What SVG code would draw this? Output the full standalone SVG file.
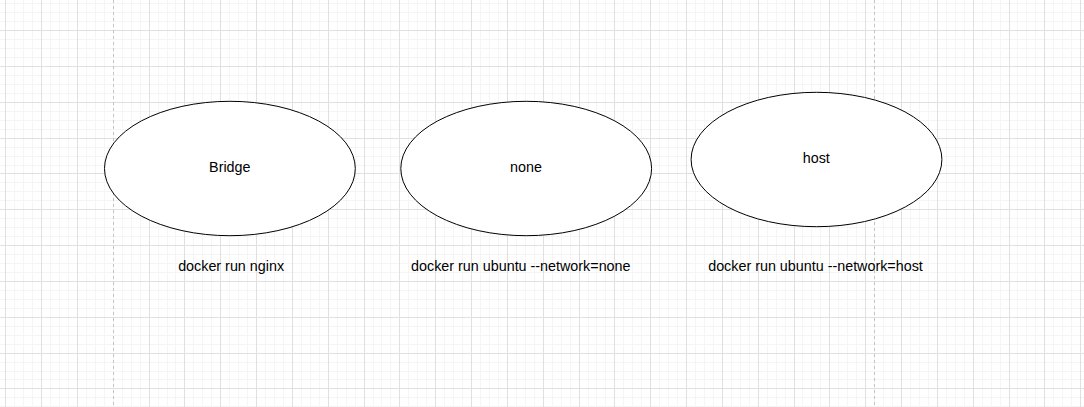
<svg xmlns="http://www.w3.org/2000/svg" width="1084" height="407" viewBox="0 0 1084 407">
<style>
.minor{stroke:#f5f5f5;stroke-width:1;fill:none}
.major{stroke:#e0e0e0;stroke-width:1;fill:none}
.page{stroke:#c4c4c4;stroke-width:1;stroke-dasharray:3 3;fill:none}
.node ellipse{fill:#fff;stroke:#000;stroke-width:1}
text{font-family:"Liberation Sans",Arial,Helvetica,sans-serif;font-size:14.34px;fill:#000;text-anchor:middle}
</style>
<rect width="1084" height="407" fill="#fff"/>
<g id="grid">
<path class="minor" d="M5.5 0V407M14.5 0V407M23.5 0V407M32.5 0V407M41.5 0V407M50.5 0V407M59.5 0V407M68.5 0V407M77.5 0V407M86.5 0V407M95.5 0V407M104.5 0V407M113.5 0V407M122.5 0V407M131.5 0V407M140.5 0V407M149.5 0V407M158.5 0V407M167.5 0V407M175.5 0V407M184.5 0V407M193.5 0V407M202.5 0V407M211.5 0V407M220.5 0V407M229.5 0V407M238.5 0V407M247.5 0V407M256.5 0V407M265.5 0V407M274.5 0V407M283.5 0V407M292.5 0V407M301.5 0V407M310.5 0V407M319.5 0V407M328.5 0V407M337.5 0V407M346.5 0V407M355.5 0V407M364.5 0V407M373.5 0V407M381.5 0V407M390.5 0V407M399.5 0V407M408.5 0V407M417.5 0V407M426.5 0V407M435.5 0V407M444.5 0V407M453.5 0V407M462.5 0V407M471.5 0V407M480.5 0V407M489.5 0V407M498.5 0V407M507.5 0V407M516.5 0V407M525.5 0V407M534.5 0V407M543.5 0V407M552.5 0V407M561.5 0V407M570.5 0V407M579.5 0V407M588.5 0V407M596.5 0V407M605.5 0V407M614.5 0V407M623.5 0V407M632.5 0V407M641.5 0V407M650.5 0V407M659.5 0V407M668.5 0V407M677.5 0V407M686.5 0V407M695.5 0V407M704.5 0V407M713.5 0V407M722.5 0V407M731.5 0V407M740.5 0V407M749.5 0V407M758.5 0V407M767.5 0V407M776.5 0V407M785.5 0V407M794.5 0V407M802.5 0V407M811.5 0V407M820.5 0V407M829.5 0V407M838.5 0V407M847.5 0V407M856.5 0V407M865.5 0V407M874.5 0V407M883.5 0V407M892.5 0V407M901.5 0V407M910.5 0V407M919.5 0V407M928.5 0V407M937.5 0V407M946.5 0V407M955.5 0V407M964.5 0V407M973.5 0V407M982.5 0V407M991.5 0V407M1000.5 0V407M1009.5 0V407M1017.5 0V407M1026.5 0V407M1035.5 0V407M1044.5 0V407M1053.5 0V407M1062.5 0V407M1071.5 0V407M1080.5 0V407
M0 3.5H1084M0 12.5H1084M0 21.5H1084M0 30.5H1084M0 39.5H1084M0 48.5H1084M0 57.5H1084M0 66.5H1084M0 75.5H1084M0 84.5H1084M0 93.5H1084M0 102.5H1084M0 111.5H1084M0 120.5H1084M0 129.5H1084M0 138.5H1084M0 147.5H1084M0 156.5H1084M0 165.5H1084M0 173.5H1084M0 182.5H1084M0 191.5H1084M0 200.5H1084M0 209.5H1084M0 218.5H1084M0 227.5H1084M0 236.5H1084M0 245.5H1084M0 254.5H1084M0 263.5H1084M0 272.5H1084M0 281.5H1084M0 290.5H1084M0 299.5H1084M0 308.5H1084M0 317.5H1084M0 326.5H1084M0 335.5H1084M0 344.5H1084M0 353.5H1084M0 362.5H1084M0 371.5H1084M0 379.5H1084M0 388.5H1084M0 397.5H1084M0 406.5H1084"/>
<path class="major" d="M5.5 0V407M41.5 0V407M77.5 0V407M149.5 0V407M184.5 0V407M220.5 0V407M256.5 0V407M292.5 0V407M328.5 0V407M364.5 0V407M399.5 0V407M435.5 0V407M471.5 0V407M507.5 0V407M543.5 0V407M579.5 0V407M614.5 0V407M650.5 0V407M686.5 0V407M722.5 0V407M758.5 0V407M794.5 0V407M829.5 0V407M865.5 0V407M901.5 0V407M937.5 0V407M973.5 0V407M1009.5 0V407M1044.5 0V407M1080.5 0V407
M0 30.5H1084M0 66.5H1084M0 102.5H1084M0 138.5H1084M0 173.5H1084M0 209.5H1084M0 245.5H1084M0 281.5H1084M0 317.5H1084M0 353.5H1084M0 388.5H1084"/>
<path class="page" d="M113.5 0V407M874.5 0V407"/>
</g>
<g id="connectors"></g>
<g id="node-bridge" class="node">
<ellipse cx="229.9" cy="168.5" rx="125.4" ry="67.2"/>
<text x="229.8" y="172">Bridge</text>
</g>
<g id="node-none" class="node">
<ellipse cx="526.2" cy="168.5" rx="125.4" ry="67.2"/>
<text x="526" y="172.3">none</text>
</g>
<g id="node-host" class="node">
<ellipse cx="816.5" cy="159.5" rx="125.4" ry="67.2"/>
<text x="816.3" y="163.2">host</text>
</g>
<g id="label-bridge"><text x="231.1" y="270.6">docker run nginx</text></g>
<g id="label-none"><text x="520.8" y="270.6">docker run ubuntu --network=none</text></g>
<g id="label-host"><text x="815.5" y="270.6">docker run ubuntu --network=host</text></g>
</svg>
